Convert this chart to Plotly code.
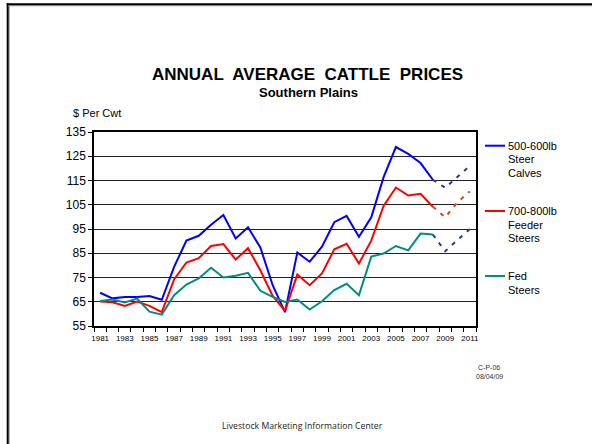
import plotly.graph_objects as go

years = list(range(1981, 2009))
calves = [68.7, 66.4, 67.0, 67.0, 67.4, 65.8, 79.4, 90.2, 92.2, 96.8, 100.8, 91.1, 95.7, 87.4,
          71.8, 60.7, 85.3, 81.5, 87.7, 97.8, 100.4, 91.8, 99.8, 116.4, 128.8, 126.0, 122.2, 115.3]
feeders = [65.1, 64.8, 63.3, 65.1, 63.3, 60.7, 74.2, 81.2, 83.0, 88.0, 88.8, 82.4, 87.1, 78.0,
           67.4, 61.2, 76.2, 71.8, 76.7, 86.6, 88.9, 80.8, 90.2, 104.5, 112.1, 108.8, 109.5, 104.2]
fed = [65.3, 65.9, 64.7, 66.3, 60.9, 59.7, 67.7, 72.1, 74.6, 79.0, 75.0, 75.7, 76.9, 69.5,
       67.0, 64.9, 65.9, 61.8, 65.2, 69.8, 72.4, 67.7, 83.6, 84.9, 88.0, 86.2, 93.1, 92.7]

proj_years = [2008, 2009, 2010, 2011]
calves_proj = [115.3, 112.0, 116.5, 121.0]
feeders_proj = [104.2, 99.8, 106.0, 110.5]
fed_proj = [92.7, 85.8, 90.5, 95.0]

tick_years = list(range(1981, 2012, 2))
y_ticks = list(range(55, 136, 10))

legend_items = [
    ("#0000FF", ["500-600lb", "Steer", "Calves"]),
    ("#FF0000", ["700-800lb", "Feeder", "Steers"]),
    ("#008B8B", ["Fed", "Steers"]),
]

W_PX, H_PX = 592, 444
L, R, T, B = 94, 476, 132, 326

def px(x):
    return (x - L) / (R - L)

def py(y):
    return (B - y) / (B - T)

fig = go.Figure()
fig.add_trace(go.Scatter(x=years, y=calves, mode="lines", line=dict(color="#0000FF", width=2)))
fig.add_trace(go.Scatter(x=years, y=feeders, mode="lines", line=dict(color="#FF0000", width=2)))
fig.add_trace(go.Scatter(x=years, y=fed, mode="lines", line=dict(color="#008B8B", width=2)))
fig.add_trace(go.Scatter(x=proj_years, y=calves_proj, mode="lines",
                         line=dict(color="#1F3A8F", width=2, dash="4px,6px")))
fig.add_trace(go.Scatter(x=proj_years, y=feeders_proj, mode="lines",
                         line=dict(color="#B5541C", width=2, dash="4px,6px")))
fig.add_trace(go.Scatter(x=proj_years, y=fed_proj, mode="lines",
                         line=dict(color="#1F3A8F", width=2, dash="4px,6px")))

font = "Liberation Sans, Arial, sans-serif"
ann = []
ann.append(dict(text="<b>ANNUAL  AVERAGE  CATTLE  PRICES</b>", x=px(307), y=py(75),
                font=dict(size=17, color="black", family=font)))
ann.append(dict(text="<b>Southern Plains</b>", x=px(308), y=py(92),
                font=dict(size=13, color="black", family=font)))
ann.append(dict(text="$ Per Cwt", x=px(71), y=py(113), xanchor="left",
                font=dict(size=11, color="black", family=font)))
ann.append(dict(text="C-P-06", x=px(489), y=py(367), font=dict(size=7, color="#333", family=font)))
ann.append(dict(text="08/04/09", x=px(489), y=py(376), font=dict(size=7, color="#333", family=font)))
ann.append(dict(text="Livestock Marketing Information Center", x=px(302), y=py(426),
                font=dict(size=8.7, color="#222", family="Open Sans, sans-serif")))

shapes = []
legend_y0 = [145.7, 211, 276]
for (color, lines), y0 in zip(legend_items, legend_y0):
    shapes.append(dict(type="line", xref="paper", yref="paper", x0=px(485), x1=px(505),
                       y0=py(y0), y1=py(y0), line=dict(color=color, width=2)))
    for i, t in enumerate(lines):
        ann.append(dict(text=t, x=px(506), y=py(y0 + i * 13.5), xanchor="left",
                        font=dict(size=11, color="black", family=font)))

for a in ann:
    a.update(xref="paper", yref="paper", showarrow=False, yanchor="middle")
    a.setdefault("xanchor", "center")

# slide frame (left and top edges)
shapes.append(dict(type="line", xref="paper", yref="paper", x0=px(9.2), x1=px(9.2),
                   y0=py(5), y1=py(444), line=dict(color="#999", width=1)))
shapes.append(dict(type="line", xref="paper", yref="paper", x0=px(7.7), x1=px(7.7),
                   y0=py(3.3), y1=py(444), line=dict(color="black", width=2)))
shapes.append(dict(type="line", xref="paper", yref="paper", x0=px(8), x1=px(592),
                   y0=py(5.8), y1=py(5.8), line=dict(color="#999", width=1)))
shapes.append(dict(type="line", xref="paper", yref="paper", x0=px(6.7), x1=px(592),
                   y0=py(4.3), y1=py(4.3), line=dict(color="black", width=2)))

fig.update_layout(
    width=W_PX, height=H_PX,
    margin=dict(l=L, r=W_PX - R, t=T, b=H_PX - B, pad=0),
    paper_bgcolor="white", plot_bgcolor="white",
    showlegend=False,
    annotations=ann, shapes=shapes,
    font=dict(family=font, color="black"),
    xaxis=dict(range=[1980.5, 2011.5], tickvals=tick_years, ticks="", showgrid=False,
               showline=True, linecolor="black", linewidth=1.5, mirror=True,
               tickfont=dict(size=8, color="black"), ticklabelstandoff=4,
               minor=dict(ticks="outside", tick0=1980.5, dtick=1, ticklen=4,
                          tickcolor="black", tickwidth=1, showgrid=False),
               zeroline=False),
    yaxis=dict(range=[55, 135], tickvals=y_ticks, ticks="outside", ticklen=4,
               tickcolor="black", showgrid=True, gridcolor="#222", gridwidth=1,
               showline=True, linecolor="black", linewidth=1.5, mirror=True,
               tickfont=dict(size=12, color="black"), zeroline=False),
)

fig.write_html("out.html", config={"displayModeBar": False},
               post_script="document.body.style.margin='0';document.body.style.overflow='hidden';")
